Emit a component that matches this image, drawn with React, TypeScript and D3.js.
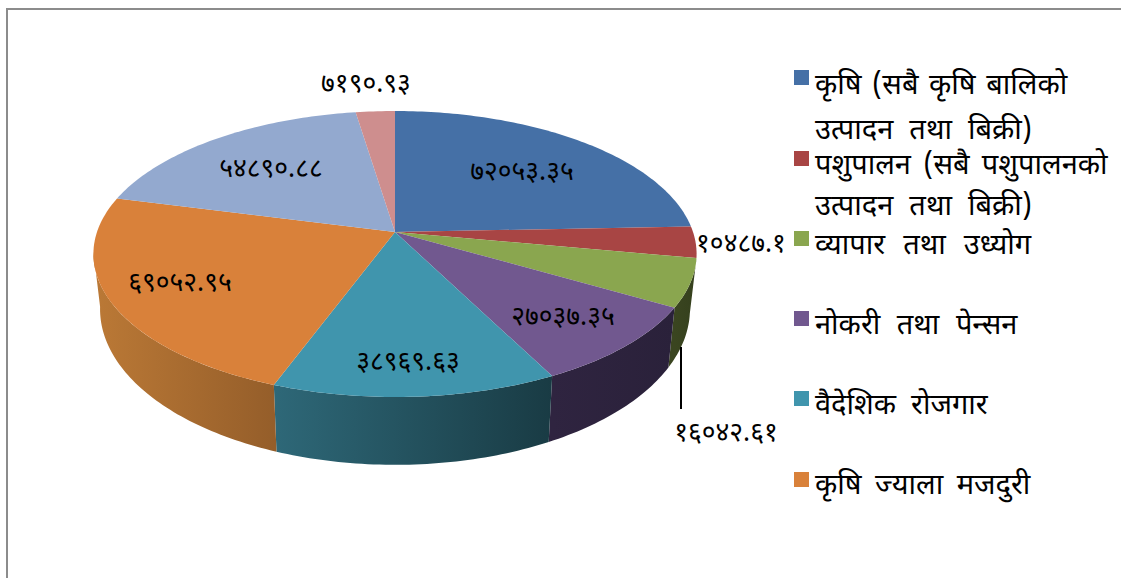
import React from "react";
import * as d3 from "d3";

const categories = [
  ["कृषि (सबै कृषि बालिको", "उत्पादन तथा बिक्री)"],
  ["पशुपालन (सबै पशुपालनको", "उत्पादन तथा बिक्री)"],
  ["व्यापार तथा उध्योग"],
  ["नोकरी तथा पेन्सन"],
  ["वैदेशिक रोजगार"],
  ["कृषि ज्याला मजदुरी"],
];
const values = [72053.35, 10487.1, 16042.61, 27037.35, 38969.63, 69052.95, 54890.88, 7190.93];
const topColors = ["#4570a6", "#a84544", "#8aa64f", "#71588f", "#4095ad", "#d9813a", "#93a9cf", "#ce8e8e"];
const sideStops = [
  ["#2a4365", "#2a4365"],
  ["#5c2524", "#5c2524"],
  ["#3a4520", "#35401d"],
  ["#2f2440", "#2a213a"],
  ["#2e6878", "#193b44"],
  ["#bb7936", "#955e2a"],
  ["#5a6f90", "#5a6f90"],
  ["#805050", "#805050"],
];
const labelCenters = [
  [522, 173], [741, 245], [726, 434], [563, 318], [408, 363], [180, 284], [271, 170], [366, 85],
];
const legendSwatchY = [70, 151, 231, 311, 391, 472];
const legendBaselines = [[94, 139], [174, 215], [254], [334], [414], [494]];
const legendWordSpacing = [[3, 8.5], [4.7, 8.5], [10.5], [9], [7.5], [6]];

const FONT = "'Noto Sans Devanagari','Noto Sans',Mangal,sans-serif";
const devanagari = (v: number) =>
  String(v).replace(/[0-9]/g, (d) => "०१२३४५६७८९"[+d]);

const cx = 395, cy = 232, R = 298, k = 139.6, p = 0.1538;
const project = (a: number) => {
  const X = Math.sin(a), Y = -Math.cos(a);
  const s = 1 / (1 - p * Y);
  return [cx + R * X * s, cy + k * Y * s];
};
const projectBase = (a: number) => {
  const [x, y] = project(a);
  return [cx + (x - cx) * 0.978, 285 + (y - cy) * 1.09];
};
const rad = (d: number) => (d * Math.PI) / 180;
const samples = (a0: number, a1: number) => {
  const n = Math.max(2, Math.ceil((a1 - a0) / rad(1)));
  return d3.range(n + 1).map((i) => a0 + ((a1 - a0) * i) / n);
};
const line = d3.line();

export default function App() {
  const arcs = d3.pie<number>().sort(null).value((d) => d)(values);
  const sideMin = rad(100.5), sideMax = rad(262);
  return (
    <svg width={1121} height={578} style={{ position: "fixed", left: 0, top: 0, background: "#fff" }} fontFamily={FONT}>
      <defs>
        {arcs.map((arc, i) => {
          const a0 = Math.max(arc.startAngle, sideMin), a1 = Math.min(arc.endAngle, sideMax);
          if (a1 <= a0) return null;
          const xs = samples(a0, a1).map((a) => project(a)[0]);
          const stops = sideStops[i];
          return (
            <linearGradient key={i} id={`side${i}`} gradientUnits="userSpaceOnUse" x1={d3.min(xs)} x2={d3.max(xs)} y1={0} y2={0}>
              {stops.map((c, j) => (
                <stop key={j} offset={j / (stops.length - 1)} stopColor={c} />
              ))}
            </linearGradient>
          );
        })}
      </defs>
      <path d="M1121 9H7V578" fill="none" stroke="#8c8c8c" strokeWidth={2} />
      {arcs.map((arc, i) => {
        const a0 = Math.max(arc.startAngle, sideMin), a1 = Math.min(arc.endAngle, sideMax);
        if (a1 <= a0) return null;
        const ss = samples(a0, a1);
        const pts = [...ss.map(project), ...ss.slice().reverse().map(projectBase)] as [number, number][];
        return <path key={i} d={line(pts) + "Z"} fill={`url(#side${i})`} />;
      })}
      {arcs.map((arc, i) => {
        const pts = [[cx, cy], ...samples(arc.startAngle, arc.endAngle).map(project)] as [number, number][];
        return <path key={i} d={line(pts) + "Z"} fill={topColors[i]} />;
      })}
      <line x1={681} x2={681} y1={347} y2={409} stroke="#000" strokeWidth={2} />
      {values.map((v, i) => (
        <text key={i} x={labelCenters[i][0]} y={labelCenters[i][1]} textAnchor="middle" dominantBaseline="central" fontSize={26.5} fill="#000">
          {devanagari(v)}
        </text>
      ))}
      {categories.map((lines, i) => (
        <g key={i}>
          <rect x={794} y={legendSwatchY[i]} width={15} height={15} fill={topColors[i]} />
          {lines.map((t, j) => (
            <text key={j} x={815} y={legendBaselines[i][j]} fontSize={29} wordSpacing={legendWordSpacing[i][j]} fill="#000">{t}</text>
          ))}
        </g>
      ))}
    </svg>
  );
}
